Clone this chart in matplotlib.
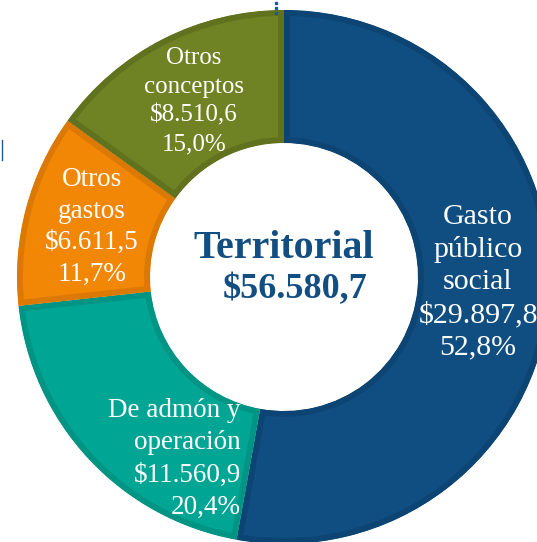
import matplotlib.pyplot as plt

# data
categories = ['Gasto\npúblico\nsocial', 'De admón y\noperación', 'Otros\ngastos', 'Otros\nconceptos']
values = [29897.8, 11560.9, 6611.5, 8510.6]
pcts = ['52,8%', '20,4%', '11,7%', '15,0%']
amounts = ['$29.897,8', '$11.560,9', '$6.611,5', '$8.510,6']
total_label = '$56.580,7'

fill_colors = ['#104E82', '#00A693', '#F28705', '#6F8224']
edge_colors = ['#0C4474', '#009484', '#DB7904', '#61721E']

fig = plt.figure(figsize=(5.37, 5.42), dpi=100)
ax = fig.add_axes([0, 0, 1, 1])

cx, cy = 284, 265
wedges, _ = ax.pie(values, startangle=90, counterclock=False, radius=267,
                   center=(cx, cy), colors=fill_colors,
                   wedgeprops=dict(width=133))
ax.set_xlim(0, 537)
ax.set_ylim(0, 542)
ax.set_aspect('equal')
ax.axis('off')

for w, ec in zip(wedges, edge_colors):
    w.set_edgecolor(ec)
    w.set_linewidth(8.5)
    # keep the darker border inside each slice
    w.set_clip_on(True)
    w.set_clip_path(w.get_path(), w.get_transform())

# slice labels (pixel positions / sizes)
label_pos = [(478, 542 - 282, 'center'), (241, 542 - 459, 'right'),
             (92, 542 - 227, 'center'), (194, 542 - 101, 'center')]
label_size = [21.5, 19.5, 19.5, 18]
label_spacing = [1.3, 1.37, 1.35, 1.4]
for cat, amt, p, (x, y, ha), fs, ls in zip(categories, amounts, pcts, label_pos,
                                           label_size, label_spacing):
    ax.text(x, y, cat + '\n' + amt + '\n' + p, ha=ha, va='center',
            multialignment=ha, family='Liberation Serif', color='white',
            fontsize=fs, linespacing=ls)

# center text
ax.text(284, 542 - 248, 'Territorial', ha='center', va='center',
        family='Liberation Serif', fontweight='bold', fontsize=28.8, color='#124E82')
ax.text(295, 542 - 290, total_label, ha='center', va='center',
        family='Liberation Serif', fontweight='bold', fontsize=26, color='#124E82')

# small leftovers at the edges of the crop
ax.plot([276, 276, 276], [539, 534, 529], 's', ms=2, color='#1F5A96', zorder=5)
ax.plot([1.5, 1.5], [542 - 140, 542 - 160], color='#1F5A96', lw=1)

fig.savefig('out.png', dpi=100)
